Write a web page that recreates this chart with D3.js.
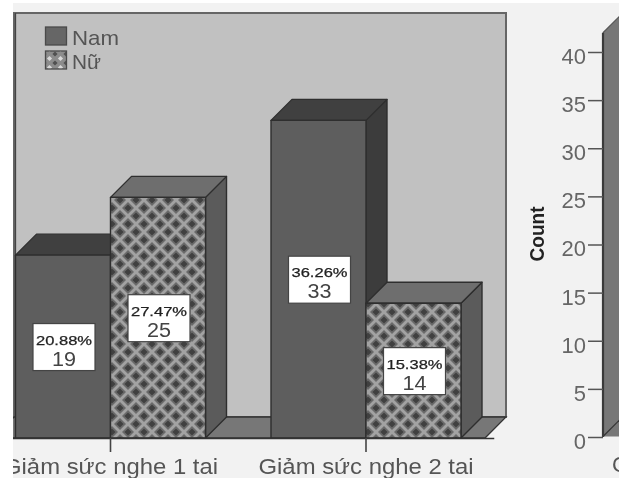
<!DOCTYPE html>
<html><head><meta charset="utf-8">
<style>html,body{margin:0;padding:0;background:#fff}svg{display:block;filter:blur(.5px)}text{font-family:"Liberation Sans",Arial,sans-serif}</style>
<script src="https://cdn.jsdelivr.net/npm/d3@7/dist/d3.min.js"></script>
</head><body><div id="c"></div>
<script>
const categories = ["Giảm sức nghe 1 tai", "Giảm sức nghe 2 tai"];
const seriesNames = ["Nam", "Nữ"];
const namValues = [19, 33];
const nuValues = [25, 14];
const namPct = ["20.88%", "36.26%"];
const nuPct = ["27.47%", "15.38%"];
const axisTicks = [0, 5, 10, 15, 20, 25, 30, 35, 40];
const nextPanelTop = 42;

const W = 619, H = 478, D = 21;
const baseY = 438, topY = 53;
const y = d3.scaleLinear().domain([0, 40]).range([baseY, topY]);
const x0 = d3.scaleBand().domain(categories).range([-17.25, 493.75]);
const barW = 95;
const x1 = d3.scaleBand().domain(seriesNames).range([x0.bandwidth()/2 - barW, x0.bandwidth()/2 + barW]);

const svg = d3.select("#c").append("svg").attr("width", W).attr("height", H);
const defs = svg.append("defs");
defs.append("clipPath").attr("id","clip").append("rect").attr("x",13).attr("y",3).attr("width",W-13).attr("height",H-3);
const P = 16;
const pat = defs.append("pattern").attr("id","hatch").attr("patternUnits","userSpaceOnUse").attr("width",P).attr("height",P);
pat.append("rect").attr("width",P).attr("height",P).attr("fill","#a2a2a2");
const dia = (cx,cy,r)=>`M${cx-r},${cy}L${cx},${cy-r}L${cx+r},${cy}L${cx},${cy+r}Z`;
[[0,0],[P,0],[0,P],[P,P],[P/2,P/2]].forEach(c=>{
  pat.append("path").attr("d",dia(c[0],c[1],6)).attr("fill","#6a6a6a");
  pat.append("path").attr("d",dia(c[0],c[1],3.6)).attr("fill","#404040");
});
const pat2 = defs.append("pattern").attr("id","hatchS").attr("patternUnits","userSpaceOnUse").attr("width",11).attr("height",9);
pat2.append("rect").attr("width",11).attr("height",9).attr("fill","#8c8c8c");
pat2.append("path").attr("d",dia(5.5,4.5,2.6)).attr("fill","#d8d8d8");
pat2.append("path").attr("d",dia(0,0,2.6)+dia(11,0,2.6)+dia(0,9,2.6)+dia(11,9,2.6)).attr("fill","#505050");

const g = svg.append("g").attr("clip-path","url(#clip)");
g.append("rect").attr("x",13).attr("y",3).attr("width",W).attr("height",H).attr("fill","#f2f2f2");

// panel wall and floor
const wallL = 14, wallR = 506, wallT = 13, wallB = baseY - D;
g.append("rect").attr("x",wallL).attr("y",wallT).attr("width",wallR-wallL).attr("height",wallB-wallT)
 .attr("fill","#c1c1c1").attr("stroke","#666").attr("stroke-width",2);
g.append("path").attr("d",`M${wallL-D},${baseY}L${wallL},${wallB}L${wallR},${wallB}L${wallR-D},${baseY}Z`)
 .attr("fill","#777").attr("stroke","#333").attr("stroke-width",1.3);
g.append("line").attr("x1",15.5).attr("x2",15.5).attr("y1",wallT).attr("y2",baseY).attr("stroke","#444").attr("stroke-width",1.3);

// bars
const style = {
  "Nam": {front:"#5e5e5e", top:"#404040", side:"#3c3c3c"},
  "Nữ": {front:"url(#hatch)", top:"#6e6e6e", side:"#5b5b5b"}
};
const rows = [];
categories.forEach((c,i)=>{
  rows.push({c, s:"Nam", v:namValues[i], p:namPct[i]});
  rows.push({c, s:"Nữ", v:nuValues[i], p:nuPct[i]});
});
const barG = g.append("g").attr("stroke","#2e2e2e").attr("stroke-width",1.4).attr("stroke-linejoin","round");
rows.forEach(r=>{
  const xa = x0(r.c)+x1(r.s), xb = xa+x1.bandwidth(), yt = y(r.v), st = style[r.s];
  barG.append("path").attr("d",`M${xb},${baseY}L${xb},${yt}L${xb+D},${yt-D}L${xb+D},${baseY-D}Z`).attr("fill",st.side);
  barG.append("path").attr("d",`M${xa},${yt}L${xa+D},${yt-D}L${xb+D},${yt-D}L${xb},${yt}Z`).attr("fill",st.top);
  barG.append("rect").attr("x",xa).attr("y",yt).attr("width",xb-xa).attr("height",baseY-yt).attr("fill",st.front);
});
// data label boxes
rows.forEach(r=>{
  const cx = x0(r.c)+x1(r.s)+x1.bandwidth()/2+1, cy = (y(r.v)+baseY)/2+.5;
  g.append("rect").attr("x",cx-31).attr("y",cy-23.5).attr("width",62).attr("height",47)
    .attr("fill","#fff").attr("stroke","#444").attr("stroke-width",1.2);
  g.append("text").attr("x",cx).attr("y",cy-2.5).attr("text-anchor","middle").attr("font-size",13)
    .attr("textLength",56).attr("lengthAdjust","spacingAndGlyphs").attr("fill","#222")
    .attr("stroke","#222").attr("stroke-width",.25).text(r.p);
  g.append("text").attr("x",cx).attr("y",cy+18.5).attr("text-anchor","middle").attr("font-size",20)
    .attr("textLength",24).attr("lengthAdjust","spacingAndGlyphs").attr("fill","#444").text(r.v);
});

// category axis
const ax = g.append("g").attr("transform",`translate(0,${baseY})`).call(d3.axisBottom(x0).tickSize(14).tickSizeOuter(0).tickPadding(6));
ax.select(".domain").attr("stroke","#333").attr("stroke-width",1.3);
ax.selectAll("line").attr("stroke","#444").attr("stroke-width",1.6);
ax.selectAll("text").attr("font-size",22).attr("fill","#555").attr("font-family",'"Liberation Sans",Arial,sans-serif')
  .attr("textLength",215).attr("lengthAdjust","spacingAndGlyphs");

// legend
const lg = g.append("g");
seriesNames.forEach((s,i)=>{
  const ly = 27 + i*24;
  lg.append("rect").attr("x",45.5).attr("y",ly).attr("width",21).attr("height",18)
    .attr("fill", i ? "url(#hatchS)" : "#666").attr("stroke","#4a4a4a").attr("stroke-width",1.3);
  lg.append("text").attr("x",72).attr("y",ly+17.5).attr("font-size",21).attr("fill","#555")
    .attr("textLength", i ? 29 : 47).attr("lengthAdjust","spacingAndGlyphs").text(s);
});

// neighbouring panel, cropped at the right edge
const wallX = 603;
g.append("path").attr("d",`M${wallX},${baseY-1.5}L${wallX},${y(nextPanelTop)-1}L${wallX+D},${y(nextPanelTop)-1-D}L${wallX+D},${baseY-1.5}Z`)
  .attr("fill","#777");
g.append("path").attr("d",`M${wallX},${y(nextPanelTop)-1}L${wallX+D},${y(nextPanelTop)-1-D}`).attr("stroke","#555").attr("stroke-width",1.2).attr("fill","none");
g.append("path").attr("d",`M${wallX},${baseY-1.5}L${wallX+D},${baseY-1.5-D}`).attr("stroke","#333").attr("stroke-width",1.2).attr("fill","none");
const ay = g.append("g").attr("transform",`translate(${wallX},-1)`)
  .call(d3.axisLeft(y).tickValues(axisTicks).tickSize(15).tickSizeOuter(0).tickPadding(2).tickFormat(d3.format("d")));
ay.select(".domain").attr("d",`M0,${baseY}V${y(nextPanelTop)}`).attr("stroke","#3a3a3a").attr("stroke-width",2.2);
ay.selectAll("line").attr("stroke","#555").attr("stroke-width",1.5);
ay.selectAll("text").attr("font-size",22).attr("fill","#666").attr("font-family",'"Liberation Sans",Arial,sans-serif')
  .attr("dy","0.52em");

g.append("text").attr("transform","translate(544,234) rotate(-90)").attr("text-anchor","middle")
  .attr("font-size",20).attr("font-weight","bold").attr("fill","#222")
  .attr("textLength",55).attr("lengthAdjust","spacingAndGlyphs").text("Count");
g.append("text").attr("x",612).attr("y",472).attr("font-size",22).attr("fill","#555").text("C");
</script></body></html>
